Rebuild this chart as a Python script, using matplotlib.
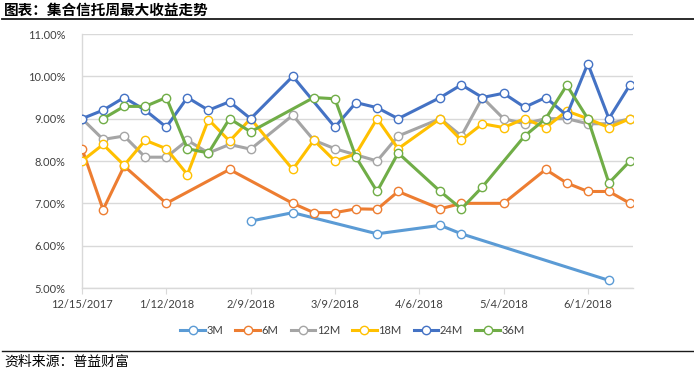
"""Weekly maximum yield of collective trust products, by maturity."""

import datetime as dt

import matplotlib
matplotlib.use("Agg")
import matplotlib.dates as mdates
import matplotlib.pyplot as plt
import numpy as np
from matplotlib.lines import Line2D
from matplotlib.ticker import FuncFormatter, MultipleLocator

plt.rcParams["font.family"] = ["Lato", "Noto Sans CJK SC", "DejaVu Sans"]

N = np.nan

# weekly dates, 12/15/2017 .. 6/15/2018 (27 weeks)
dates = [dt.date(2017, 12, 15) + dt.timedelta(weeks=k) for k in range(27)]

# max yield (%) per week; NaN = no observation that week
y_3m = [N, N, N, N, N, N, N, N, 6.58, N, 6.78, N, N, N, 6.28, N, N,
        6.48, 6.28, N, N, N, N, N, N, 5.18, N]
y_6m = [8.29, 6.85, 7.88, N, 7.00, N, N, 7.80, N, N, 7.00, 6.78, 6.78,
        6.87, 6.86, 7.28, N, 6.87, 7.00, N, 7.00, N, 7.80, 7.48, 7.28,
        7.28, 7.00]
y_12m = [9.00, 8.51, 8.59, 8.09, 8.09, 8.49, 8.19, 8.39, 8.28, N, 9.08,
         8.49, 8.29, N, 8.00, 8.59, N, 9.00, 8.59, 9.50, 9.00, 8.88, 9.00,
         9.00, 8.88, 8.88, 9.00]
y_18m = [8.00, 8.39, 7.90, 8.49, 8.29, 7.68, 8.98, 8.47, 9.00, N, 7.80,
         8.49, 8.00, 8.17, 9.00, 8.29, N, 9.00, 8.49, 8.88, 8.79, 9.00,
         8.79, 9.18, 9.00, 8.79, 9.00]
y_24m = [9.00, 9.20, 9.50, 9.20, 8.80, 9.50, 9.20, 9.40, 9.00, N, 10.00,
         N, 8.80, 9.38, 9.26, 9.00, N, 9.50, 9.80, 9.50, 9.60, 9.27, 9.50,
         9.08, 10.30, 9.00, 9.80]
y_36m = [N, 9.00, 9.29, 9.29, 9.50, 8.29, 8.19, 9.00, 8.69, N, N, 9.50,
         9.47, 8.09, 7.28, 8.19, N, 7.28, 6.87, 7.39, N, 8.59, 9.00, 9.79,
         9.00, 7.48, 8.00]

labels = ["3M", "6M", "12M", "18M", "24M", "36M"]
colors = ["#5B9BD5", "#ED7D31", "#A5A5A5", "#FFC000", "#4472C4", "#70AD47"]
series = [y_3m, y_6m, y_12m, y_18m, y_24m, y_36m]

fig = plt.figure(figsize=(6.94, 3.70), dpi=100)
ax = fig.add_axes([82 / 694, 1 - 288 / 370, 551 / 694, 254 / 370])

x_all = np.array(dates)
for lab, col, vals in zip(labels, colors, series):
    v = np.array(vals, dtype=float)
    ok = ~np.isnan(v)
    ax.plot(x_all[ok], v[ok], color=col, lw=2.2, marker="o", ms=6,
            mfc="white", mec=col, mew=1.0, label=lab, zorder=3)

ax.set_ylim(5, 11)
ax.yaxis.set_major_locator(MultipleLocator(1))
ax.yaxis.set_major_formatter(FuncFormatter(lambda v, _: f"{v:.2f}%"))
ax.set_xlim(dt.date(2017, 12, 15), dt.date(2018, 6, 16))
ax.set_xticks([dt.date(2017, 12, 15) + dt.timedelta(days=28 * i) for i in range(7)])
ax.xaxis.set_major_formatter(FuncFormatter(
    lambda v, _: (lambda d: f"{d.month}/{d.day}/{d.year}")(mdates.num2date(v))))

ax.grid(axis="y", color="#D9D9D9", lw=1.0)
ax.set_axisbelow(True)
for side in ("top", "right"):
    ax.spines[side].set_visible(False)
for side in ("left", "bottom"):
    ax.spines[side].set_color("#D9D9D9")
    ax.spines[side].set_linewidth(1.0)
ax.tick_params(axis="y", length=0, pad=12, labelsize=8, labelcolor="#404040")
ax.tick_params(axis="x", length=4, color="#D9D9D9", pad=4, labelsize=8,
               labelcolor="#404040")

ax.legend(loc="center", bbox_to_anchor=(0.508, 1 - 330 / 370),
          bbox_transform=fig.transFigure, ncol=6, frameon=False,
          fontsize=8, handlelength=2.2, handletextpad=0.15,
          columnspacing=1.1, labelcolor="#404040")

# header / footer
fig.text(0.006, 1 - 10 / 370, "图表：集合信托周最大收益走势", fontsize=10.5,
         fontweight="bold", va="center", ha="left",
         family=["Noto Sans CJK SC", "DejaVu Sans"])
fig.add_artist(Line2D([0.003, 1.0], [1 - 18.5 / 370] * 2, color="#1a1a1a",
                      lw=1.3, transform=fig.transFigure))
fig.add_artist(Line2D([0.003, 1.0], [1 - 351 / 370] * 2, color="#1a1a1a",
                      lw=1.0, transform=fig.transFigure))
fig.text(0.006, 1 - 362 / 370, "资料来源：普益财富", fontsize=10,
         va="center", ha="left", family=["Noto Sans CJK SC", "DejaVu Sans"])

fig.savefig("out.png", dpi=100)
